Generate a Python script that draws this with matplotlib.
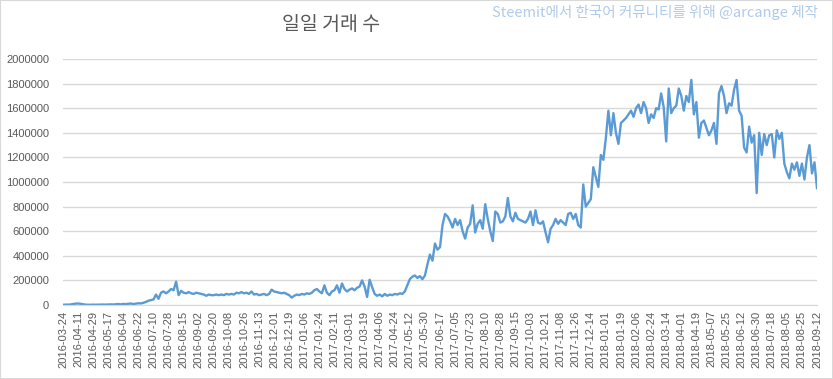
import matplotlib
matplotlib.use("Agg")
import matplotlib.pyplot as plt
from matplotlib.patches import Rectangle
from matplotlib.ticker import FuncFormatter, MultipleLocator

# daily transaction counts, one reading every 3 days starting 2016-03-24
tx_counts = [
    2000, 3000, 3000, 4000, 8000, 11000, 12000, 10000, 6000, 3000,
    2000, 2000, 3000, 2000, 3000, 3000, 4000, 3000, 4000, 5000,
    4000, 6000, 8000, 5000, 9000, 7000, 10000, 12000, 8000, 11000,
    14000, 13000, 18000, 25000, 35000, 40000, 45000, 85000, 50000, 100000,
    110000, 95000, 110000, 130000, 120000, 190000, 80000, 115000, 100000, 95000,
    105000, 95000, 90000, 100000, 95000, 90000, 85000, 75000, 85000, 80000,
    80000, 85000, 80000, 85000, 80000, 90000, 85000, 90000, 85000, 100000,
    95000, 105000, 95000, 100000, 90000, 110000, 85000, 90000, 80000, 85000,
    90000, 80000, 90000, 125000, 110000, 105000, 100000, 95000, 100000, 90000,
    80000, 60000, 75000, 85000, 80000, 90000, 85000, 95000, 90000, 100000,
    120000, 130000, 110000, 95000, 160000, 100000, 80000, 110000, 120000, 160000,
    100000, 175000, 130000, 110000, 125000, 135000, 120000, 140000, 150000, 200000,
    150000, 65000, 205000, 145000, 90000, 75000, 85000, 70000, 90000, 75000,
    85000, 80000, 90000, 85000, 95000, 90000, 110000, 160000, 210000, 230000,
    240000, 220000, 235000, 210000, 240000, 330000, 410000, 360000, 500000, 450000,
    470000, 650000, 740000, 720000, 680000, 630000, 700000, 650000, 690000, 600000,
    540000, 630000, 660000, 810000, 590000, 660000, 690000, 620000, 820000, 700000,
    600000, 520000, 760000, 740000, 670000, 680000, 720000, 870000, 720000, 680000,
    750000, 700000, 690000, 680000, 670000, 700000, 760000, 650000, 770000, 670000,
    660000, 680000, 590000, 510000, 620000, 650000, 700000, 660000, 690000, 670000,
    650000, 740000, 750000, 700000, 740000, 650000, 630000, 980000, 800000, 830000,
    860000, 1120000, 1040000, 960000, 1220000, 1180000, 1360000, 1580000, 1380000, 1560000,
    1400000, 1310000, 1480000, 1500000, 1520000, 1550000, 1580000, 1530000, 1600000, 1630000,
    1560000, 1650000, 1600000, 1480000, 1550000, 1520000, 1600000, 1590000, 1720000, 1610000,
    1330000, 1760000, 1560000, 1600000, 1620000, 1760000, 1700000, 1580000, 1700000, 1650000,
    1830000, 1550000, 1650000, 1360000, 1480000, 1500000, 1440000, 1380000, 1420000, 1480000,
    1310000, 1720000, 1780000, 1700000, 1560000, 1640000, 1620000, 1750000, 1830000, 1580000,
    1540000, 1280000, 1240000, 1450000, 1320000, 1380000, 910000, 1400000, 1220000, 1390000,
    1300000, 1380000, 1390000, 1200000, 1420000, 1350000, 1400000, 1150000, 1080000, 1030000,
    1150000, 1100000, 1160000, 1050000, 1150000, 1020000, 1200000, 1300000, 1070000, 1160000,
    950000,
]

# category labels shown on the x axis (every 6th reading)
date_labels = [
    "2016-03-24", "2016-04-11", "2016-04-29", "2016-05-17", "2016-06-04",
    "2016-06-22", "2016-07-10", "2016-07-28", "2016-08-15", "2016-09-02",
    "2016-09-20", "2016-10-08", "2016-10-26", "2016-11-13", "2016-12-01",
    "2016-12-19", "2017-01-06", "2017-01-24", "2017-02-11", "2017-03-01",
    "2017-03-19", "2017-04-06", "2017-04-24", "2017-05-12", "2017-05-30",
    "2017-06-17", "2017-07-05", "2017-07-23", "2017-08-10", "2017-08-28",
    "2017-09-15", "2017-10-03", "2017-10-21", "2017-11-08", "2017-11-26",
    "2017-12-14", "2018-01-01", "2018-01-19", "2018-02-06", "2018-02-24",
    "2018-03-14", "2018-04-01", "2018-04-19", "2018-05-07", "2018-05-25",
    "2018-06-12", "2018-06-30", "2018-07-18", "2018-08-05", "2018-08-25",
    "2018-09-12",
]

title = "일일 거래 수"
credit = "Steemit에서 한국어 커뮤니티를 위해 @arcange 제작"

LINE = "#5b9bd5"
GRID = "#d9d9d9"
TEXT = "#595959"
CJK = ["Noto Sans CJK KR", "DejaVu Sans"]

plt.rcParams["font.family"] = ["Liberation Sans", "DejaVu Sans"]

fig = plt.figure(figsize=(8.33, 3.79), dpi=100)
ax = fig.add_axes([63 / 833, 1 - 305 / 379, 754 / 833, 246 / 379])

xs = range(len(tx_counts))
ax.plot(xs, tx_counts, color=LINE, linewidth=1.7, solid_joinstyle="round")

ax.set_xlim(0, len(tx_counts) - 1)
ax.set_ylim(0, 2000000)
ax.yaxis.set_major_locator(MultipleLocator(200000))
ax.yaxis.set_major_formatter(FuncFormatter(lambda v, _: f"{int(v)}"))
ax.set_xticks(range(0, len(tx_counts), 6))
ax.set_xticklabels(date_labels, rotation=90)

ax.grid(axis="y", color=GRID, linewidth=1)
ax.set_axisbelow(True)
for side in ["top", "right", "left"]:
    ax.spines[side].set_visible(False)
ax.spines["bottom"].set_color(GRID)
ax.tick_params(axis="y", length=0, pad=10, labelsize=8, labelcolor=TEXT)
ax.tick_params(axis="x", length=0, pad=4, labelsize=8, labelcolor=TEXT)

fig.text(331 / 833, 1 - 25 / 379, title, family=CJK, fontsize=14,
         color=TEXT, ha="center", va="center")
fig.text(818 / 833, 1 - 12 / 379, credit, family=CJK, fontsize=10.5,
         color="#afcbea", ha="right", va="center")

fig.patches.append(Rectangle((0, 0), 1, 1, transform=fig.transFigure,
                             fill=False, edgecolor=GRID, linewidth=1.5))

fig.savefig("out.png", dpi=100)
